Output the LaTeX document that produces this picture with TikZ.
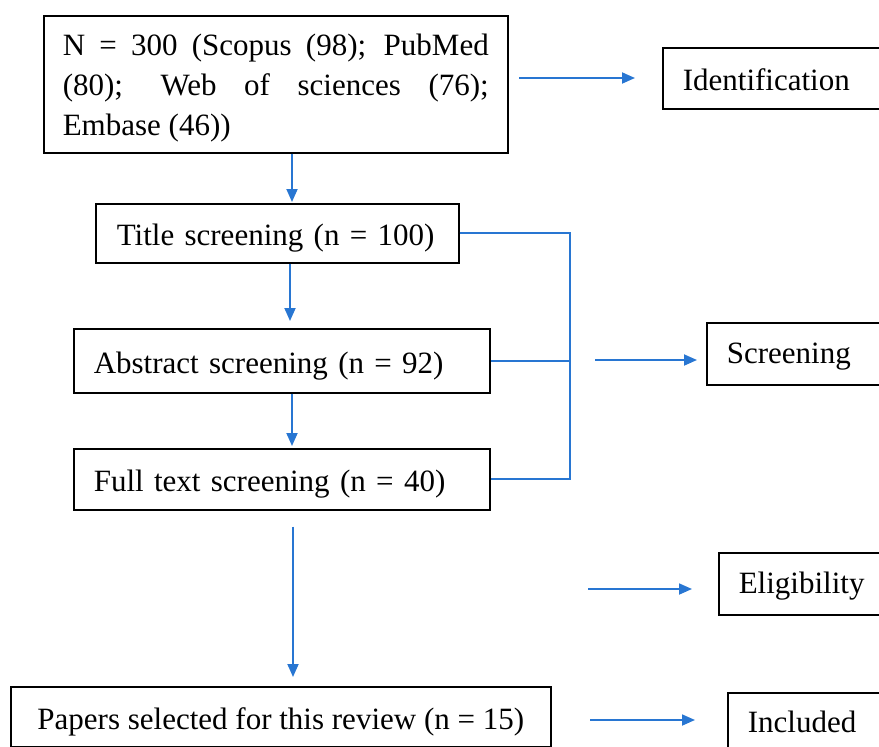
\documentclass[tikz,border=0pt]{standalone}
\usepackage{fontspec}
\setmainfont{Liberation Serif}
\usetikzlibrary{arrows.meta}
\definecolor{flowblue}{RGB}{40,118,210}
\hyphenpenalty=10000
\exhyphenpenalty=10000
\tolerance=10000
\begin{document}
\begin{tikzpicture}[x=1pt,y=1pt,
  box/.style={draw=black, line width=1.6pt, anchor=north west, inner xsep=20pt,
    inner ysep=0pt, align=left, font=\fontsize{31}{38}\selectfont},
  oneline/.style={box, text height=27pt, text depth=2pt},
  phase/.style={box, text width=220pt, text height=22pt, text depth=2pt},
  link/.style={draw=flowblue, line width=1.8pt},
  flow/.style={link, -{Triangle[length=13pt,width=11pt]}}]
\useasboundingbox (0,-747) rectangle (879,0);
\clip (0,-747) rectangle (879,0);

% stage boxes (left column)
\node[box, minimum width=464pt, minimum height=137pt] (top) at (43,-15) {};
\node[align=justify, inner sep=0pt, text width=426pt, font=\fontsize{31}{40}\selectfont]
  (toptext) at ([yshift=-4pt]top.center)
  {N = 300 (Scopus (98); PubMed (80); Web of sciences (76); Embase (46))};
\node[oneline, text width=323pt, minimum height=59pt] (title) at (95,-203) {\mbox{\hspace*{1pt}Title screening (n = 100)}};
\node[oneline, text width=376pt, minimum height=64pt] (abs) at (73,-328) {\mbox{Abstract screening (n = 92)}};
\node[oneline, text width=376pt, minimum height=61pt] (full) at (73,-448) {\mbox{Full text screening (n = 40)}};
\node[oneline, minimum width=540pt, minimum height=60pt] (pap) at (10,-686) {\mbox{Papers selected for this review (n = 15)}};

% phase labels (right column, running off the edge)
\node[oneline, text width=220pt, minimum height=61pt] (ident) at (662,-47) {Identification};
\node[phase, minimum height=62pt] (scr) at (706,-322) {Screening};
\node[phase, minimum height=62pt] (elig) at (718,-552) {Eligibility};
\node[phase, minimum height=60pt] (incl) at (727,-692) {Included};

% guide coordinates
\coordinate (x1) at (292,0);
\coordinate (x2) at (290,0);
\coordinate (x3) at (293,0);
\coordinate (br) at (570,0);
\coordinate (i0) at (519,-78);
\coordinate (s0) at (595,-360);
\coordinate (e0) at (588,-589);
\coordinate (n0) at (590,-720);

% vertical flow
\draw[flow, shorten >=1pt] (top.south -| x1) -- (title.north -| x1);
\draw[flow, shorten >=7pt] (title.south -| x2) -- (abs.north -| x2);
\draw[flow, shorten >=2pt] (abs.south -| x1) -- (full.north -| x1);
\draw[flow, shorten <=16pt, shorten >=9pt] (full.south -| x3) -- (pap.north -| x3);

% screening bracket
\draw[link] (title.east) -- (title.east -| br) -- (full.east -| br) -- (full.east);
\draw[link] (abs.east) -- (abs.east -| br);

% arrows towards phase labels
\draw[flow, shorten >=27pt] (i0) -- (ident.west |- i0);
\draw[flow, shorten >=9pt] (s0) -- (scr.west |- s0);
\draw[flow, shorten >=26pt] (e0) -- (elig.west |- e0);
\draw[flow, shorten >=32pt] (n0) -- (incl.west |- n0);
\end{tikzpicture}
\end{document}
